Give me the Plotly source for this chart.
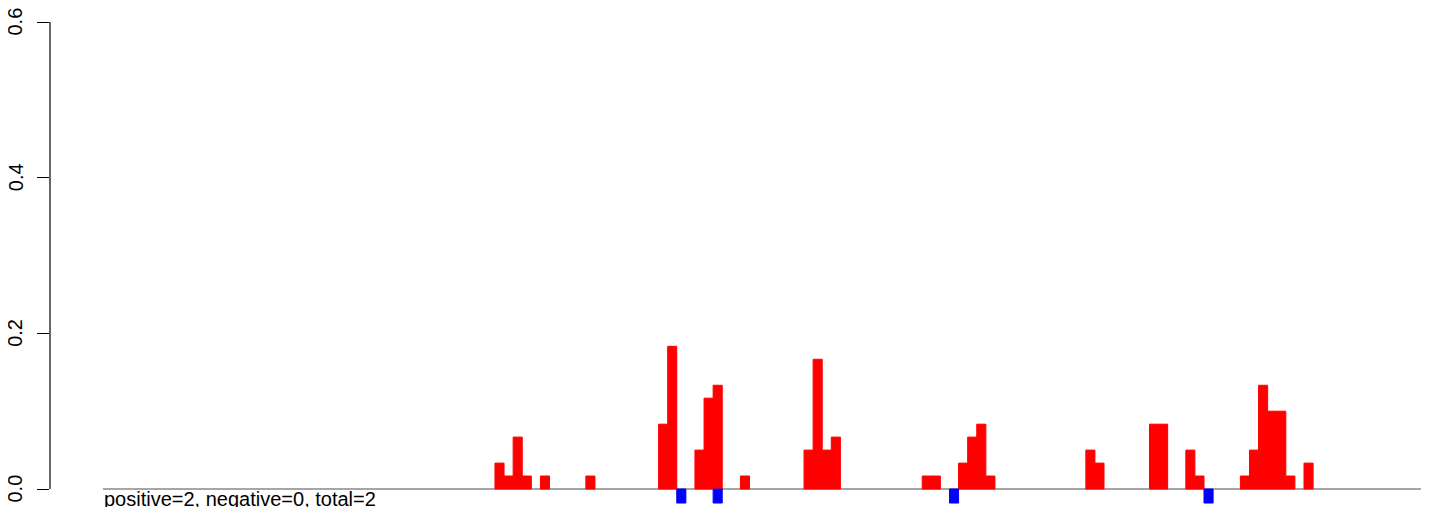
import plotly.graph_objects as go

# bin index (left edge) and height of positive (red) bars
pos_bins = [0, 1, 2, 3, 5, 10, 18, 19, 22, 23, 24, 27, 34, 35, 36, 37, 47, 48,
            51, 52, 53, 54, 65, 66, 72, 73, 76, 77, 82, 83, 84, 85, 86, 87, 89]
pos_vals = [0.0333, 0.0167, 0.0667, 0.0167, 0.0167, 0.0167, 0.0833, 0.1833,
            0.05, 0.1167, 0.1333, 0.0167, 0.05, 0.1667, 0.05, 0.0667, 0.0167,
            0.0167, 0.0333, 0.0667, 0.0833, 0.0167, 0.05, 0.0333, 0.0833,
            0.0833, 0.05, 0.0167, 0.0167, 0.05, 0.1333, 0.1, 0.1, 0.0167, 0.0333]
# negative (blue) marks
neg_bins = [20, 24, 50, 78]
neg_vals = [-0.018, -0.018, -0.018, -0.018]

y_ticks = [0.0, 0.2, 0.4, 0.6]
y_ticklabels = ["0.0", "0.2", "0.4", "0.6"]
note = "positive=2, negative=0, total=2"
baseline_start = -43.12

FONT = "Liberation Sans, Arial, sans-serif"

fig = go.Figure()
fig.add_trace(go.Bar(x=pos_bins, y=pos_vals, width=1, offset=0,
                     marker=dict(color="#FF0000", line=dict(color="#FF0000", width=1))))
fig.add_trace(go.Bar(x=neg_bins, y=neg_vals, width=1, offset=0,
                     marker=dict(color="#0000FF", line=dict(color="#0000FF", width=1))))

# baseline
fig.add_shape(type="line", xref="x", yref="y", x0=baseline_start, x1=110,
              y0=0, y1=0, line=dict(color="#888888", width=1.5), layer="below")
# R-style y axis line from 0 to 0.6
fig.add_shape(type="line", xref="paper", yref="y", x0=0, x1=0,
              y0=y_ticks[0], y1=y_ticks[-1], line=dict(color="black", width=1.2))

# rotated tick labels
for v, lab in zip(y_ticks, y_ticklabels):
    fig.add_annotation(x=0, y=v, xref="paper", yref="y", text=lab,
                       showarrow=False, xanchor="center", yanchor="middle",
                       textangle=-90, xshift=-34.5, borderpad=0,
                       font=dict(family=FONT, size=20, color="black"))

fig.add_annotation(x=baseline_start, y=0, xref="x", yref="y", text=note,
                   showarrow=False, xanchor="left", yanchor="top",
                   font=dict(family=FONT, size=20, color="black"),
                   yshift=3, xshift=-1)

fig.update_layout(
    width=1421, height=499,
    margin=dict(l=42, r=0, t=0, b=0, autoexpand=False),
    paper_bgcolor="white", plot_bgcolor="white",
    showlegend=False, barmode="overlay",
    xaxis=dict(range=[-48.95, 102.75], visible=False, automargin=False),
    yaxis=dict(range=[-0.0231, 0.618], showgrid=False, zeroline=False,
               showline=False, tickvals=y_ticks, showticklabels=False,
               ticks="outside", ticklen=12, tickwidth=1.2, tickcolor="black",
               automargin=False),
)

fig.write_html("out.html")
